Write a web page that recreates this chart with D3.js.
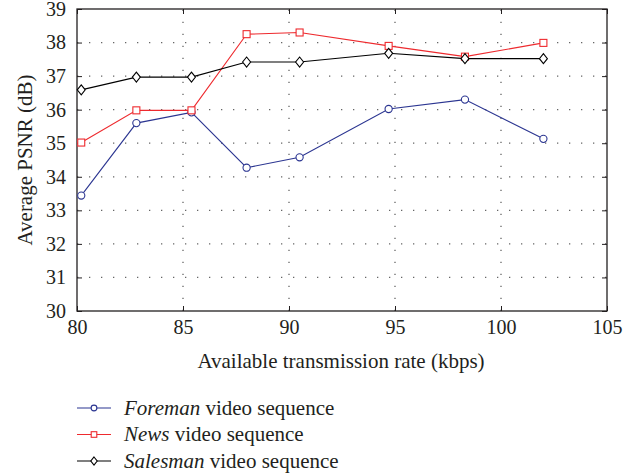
<html lang="en">
<head>
<meta charset="UTF-8">
<title>Average PSNR</title>
<style>
  body { margin: 0; background: #fff; }
  .grid line { stroke: #666; stroke-width: 1.3px; stroke-dasharray: 1.3, 10.7; }
  .series path { fill: none; stroke-width: 1.1px; }
  .series .mk { fill: #fff; stroke-width: 1.1px; }
</style>
</head>
<body>
<svg></svg>
<script src="https://cdnjs.cloudflare.com/ajax/libs/d3/7.8.5/d3.min.js"></script>
<script>

var width = 637,
    height = 473,
    margin = { left: 77, right: 30, top: 9, bottom: 162 },
    serif = "'Liberation Serif', 'Times New Roman', Times, serif";

// data
var rates = [80.2, 82.8, 85.4, 88.0, 90.5, 94.7, 98.3, 102.0];
var foreman = [33.44, 35.60, 35.92, 34.27, 34.58, 36.02, 36.30, 35.13];
var news = [35.02, 35.98, 35.98, 38.25, 38.30, 37.90, 37.58, 37.99];
var salesman = [36.59, 36.97, 36.97, 37.42, 37.42, 37.68, 37.52, 37.52];

var xTicks = [80, 85, 90, 95, 100, 105];
var yTicks = [30, 31, 32, 33, 34, 35, 36, 37, 38, 39];

var series = [
  { name: "Foreman", values: foreman, color: "#2b3591", marker: "circle" },
  { name: "News", values: news, color: "#ee2a2e", marker: "square" },
  { name: "Salesman", values: salesman, color: "#000000", marker: "diamond" }
];

var svg = d3.select("svg")
  .attr("width", width)
  .attr("height", height);

var x = d3.scaleLinear().domain([80, 105]).range([margin.left, width - margin.right]);
var y = d3.scaleLinear().domain([30, 39]).range([height - margin.bottom, margin.top]);

var x0 = x.range()[0], x1 = x.range()[1], y0 = y.range()[0], y1 = y.range()[1];

// dotted grid
var grid = svg.append("g").attr("class", "grid");
grid.selectAll(".gx")
  .data(xTicks.slice(1, -1))
  .enter().append("line")
    .attr("x1", d => x(d)).attr("x2", d => x(d))
    .attr("y1", y0).attr("y2", y1);
grid.selectAll(".gy")
  .data(yTicks.slice(1, -1))
  .enter().append("line")
    .attr("x1", x0).attr("x2", x1)
    .attr("y1", d => y(d)).attr("y2", d => y(d));

// axes with inward ticks
var tick = 5;
svg.append("g")
  .attr("transform", "translate(0," + y0 + ")")
  .call(d3.axisBottom(x).tickValues(xTicks).tickSizeInner(-tick).tickSizeOuter(0).tickPadding(9))
  .call(g => g.select(".domain").remove());
svg.append("g")
  .attr("transform", "translate(0," + y1 + ")")
  .call(d3.axisTop(x).tickValues(xTicks).tickSizeInner(-tick).tickSizeOuter(0).tickFormat(""))
  .call(g => g.select(".domain").remove());
svg.append("g")
  .attr("transform", "translate(" + x0 + ",0)")
  .call(d3.axisLeft(y).tickValues(yTicks).tickSizeInner(-tick).tickSizeOuter(0).tickPadding(11))
  .call(g => g.select(".domain").remove());
svg.append("g")
  .attr("transform", "translate(" + x1 + ",0)")
  .call(d3.axisRight(y).tickValues(yTicks).tickSizeInner(-tick).tickSizeOuter(0).tickFormat(""))
  .call(g => g.select(".domain").remove());

svg.selectAll(".tick line").attr("stroke", "#231f20");
svg.selectAll(".tick text")
  .style("font-family", serif)
  .style("font-size", "20px")
  .attr("fill", "#231f20");

svg.append("rect")
  .attr("x", x0).attr("y", y1)
  .attr("width", x1 - x0).attr("height", y0 - y1)
  .attr("fill", "none").attr("stroke", "#231f20").attr("stroke-width", 1.3);

// axis titles
svg.append("text")
  .attr("x", (x0 + x1) / 2 - 1).attr("y", 368)
  .attr("text-anchor", "middle")
  .style("font-family", serif)
  .style("font-size", "21px")
  .attr("fill", "#231f20")
  .text("Available transmission rate (kbps)");
svg.append("text")
  .attr("transform", "translate(32," + ((y0 + y1) / 2) + ") rotate(-90)")
  .attr("text-anchor", "middle")
  .style("font-family", serif)
  .style("font-size", "21px")
  .attr("fill", "#231f20")
  .text("Average PSNR (dB)");

function drawMarker(sel, kind, color, cx, cy, k) {
  k = k || 1;
  if (kind === "circle") {
    sel.append("circle").attr("class", "mk").attr("cx", cx).attr("cy", cy).attr("r", 3.6 * k).attr("stroke", color);
  } else if (kind === "square") {
    sel.append("rect").attr("class", "mk").attr("x", cx - 3.5 * k).attr("y", cy - 3.5 * k)
      .attr("width", 7 * k).attr("height", 7 * k).attr("stroke", color);
  } else {
    sel.append("path").attr("class", "mk")
      .attr("d", "M" + cx + "," + (cy - 5 * k) + "L" + (cx + 4 * k) + "," + cy + "L" + cx + "," + (cy + 5 * k) + "L" + (cx - 4 * k) + "," + cy + "Z")
      .attr("stroke", color);
  }
}

var line = d3.line()
  .x((d, i) => x(rates[i]))
  .y(d => y(d));

series.forEach(function (s) {
  var g = svg.append("g").attr("class", "series");
  g.append("path").attr("d", line(s.values)).attr("stroke", s.color);
  s.values.forEach(function (v, i) {
    drawMarker(g, s.marker, s.color, x(rates[i]), y(v));
  });
});

// legend
var legendTop = 408, rowGap = 26.5;
series.forEach(function (s, i) {
  var ly = legendTop + i * rowGap;
  var g = svg.append("g").attr("class", "series");
  g.append("path").attr("d", "M77," + ly + "H111").attr("stroke", s.color);
  drawMarker(g, s.marker, s.color, 94, ly, 0.8);
  var t = g.append("text").attr("x", 124).attr("y", ly + 6.5)
    .style("font-family", serif)
    .style("font-size", "21px")
    .attr("fill", "#231f20");
  t.append("tspan").style("font-style", "italic").text(s.name);
  t.append("tspan").text(" video sequence");
});

</script>
</body>
</html>
